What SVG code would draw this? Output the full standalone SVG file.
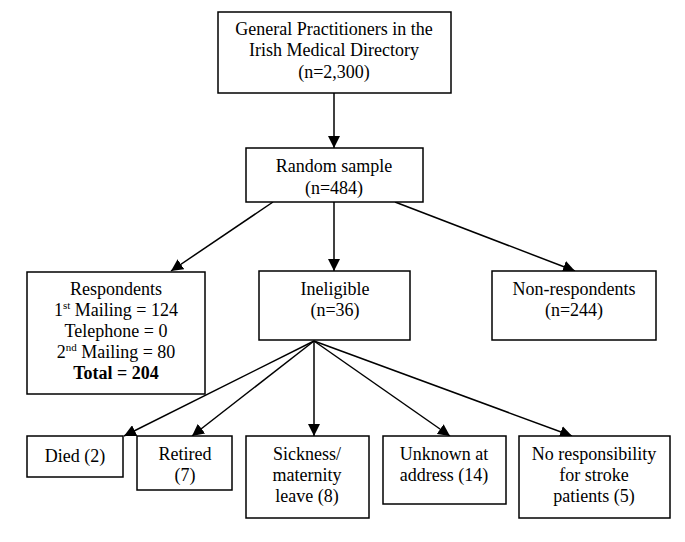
<svg xmlns="http://www.w3.org/2000/svg" width="685" height="542" viewBox="0 0 685 542">
<style>
rect{fill:#fff;stroke:#000;stroke-width:1.5}
text{font-family:'Liberation Serif','Times New Roman',Tinos,'DejaVu Serif',serif;font-size:18px;fill:#000;text-anchor:middle}
.c line{stroke:#000;stroke-width:1.5;marker-end:url(#ah)}
</style>
<defs>
<marker id="ah" viewBox="0 0 10 10" refX="10" refY="5" markerWidth="8" markerHeight="8" markerUnits="strokeWidth" orient="auto">
<path d="M0,0 L10,5 L0,10 z" fill="#000"/>
</marker>
</defs>
<rect x="0" y="0" width="685" height="542" style="stroke:none"/>
<g class="c" id="connectors">
<line x1="334" y1="93" x2="334" y2="148"/>
<line x1="273" y1="202" x2="171" y2="271"/>
<line x1="334" y1="202" x2="334" y2="271"/>
<line x1="395" y1="202" x2="575" y2="271"/>
<line x1="314" y1="341" x2="124" y2="436"/>
<line x1="314" y1="341" x2="192" y2="436"/>
<line x1="314" y1="341" x2="314" y2="436"/>
<line x1="314" y1="341" x2="450" y2="436"/>
<line x1="314" y1="341" x2="572" y2="436"/>
</g>
<g id="gp"><rect x="218" y="12" width="233" height="81"/>
<text x="334" y="35">General Practitioners in the</text>
<text x="334" y="56">Irish Medical Directory</text>
<text x="334" y="78">(n=2,300)</text></g>
<g id="random"><rect x="246" y="148" width="177" height="54"/>
<text x="334" y="172">Random sample</text>
<text x="334" y="194">(n=484)</text></g>
<g id="respondents"><rect x="27" y="272" width="178" height="122"/>
<text x="116" y="295">Respondents</text>
<text x="116" y="316">1<tspan font-size="11" dy="-7">st</tspan><tspan dy="7"> Mailing = 124</tspan></text>
<text x="116" y="337">Telephone = 0</text>
<text x="116" y="358">2<tspan font-size="11" dy="-7">nd</tspan><tspan dy="7"> Mailing = 80</tspan></text>
<text x="116" y="379" font-weight="bold">Total = 204</text></g>
<g id="ineligible"><rect x="259" y="271" width="151" height="69"/>
<text x="335" y="295">Ineligible</text>
<text x="335" y="316">(n=36)</text></g>
<g id="nonresp"><rect x="492" y="271" width="164" height="69"/>
<text x="574" y="295">Non-respondents</text>
<text x="574" y="316">(n=244)</text></g>
<g id="died"><rect x="27" y="436" width="96" height="41"/>
<text x="75" y="462">Died (2)</text></g>
<g id="retired"><rect x="137" y="436" width="95" height="54"/>
<text x="185" y="460">Retired</text>
<text x="185" y="481">(7)</text></g>
<g id="sickness"><rect x="246" y="436" width="123" height="82"/>
<text x="307" y="460">Sickness/</text>
<text x="307" y="481">maternity</text>
<text x="307" y="502">leave (8)</text></g>
<g id="unknown"><rect x="383" y="436" width="123" height="68"/>
<text x="444" y="460">Unknown at</text>
<text x="444" y="481">address (14)</text></g>
<g id="noresp"><rect x="519" y="436" width="151" height="82"/>
<text x="594" y="460">No responsibility</text>
<text x="594" y="481">for stroke</text>
<text x="594" y="502">patients (5)</text></g>
</svg>
